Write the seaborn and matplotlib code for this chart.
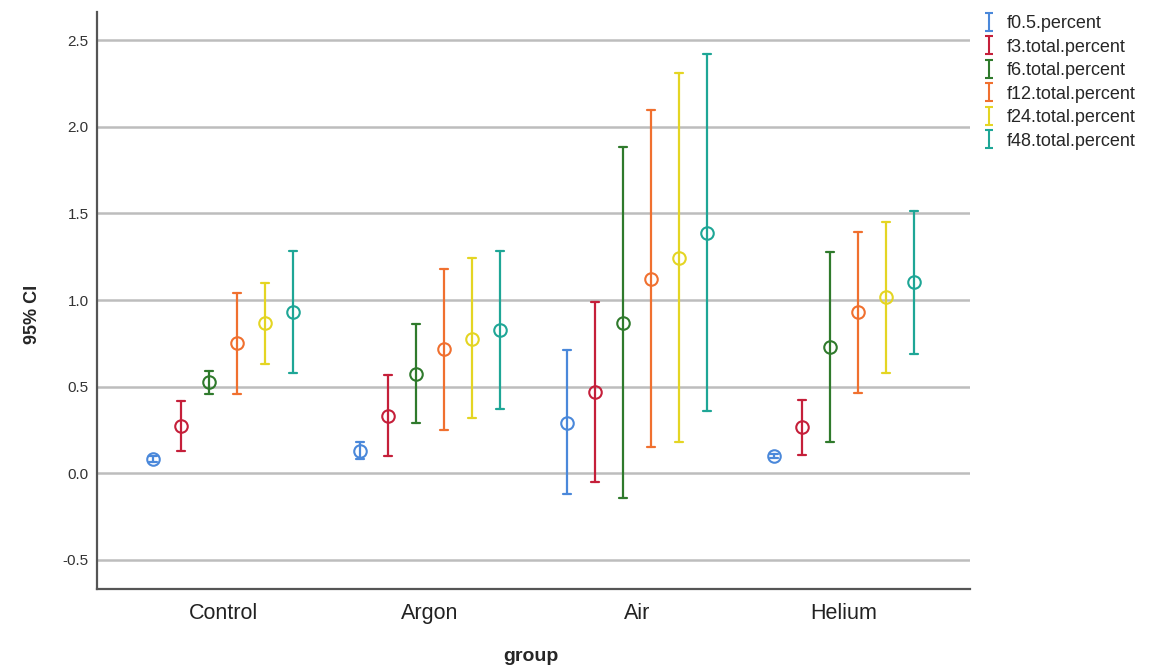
import numpy as np
import pandas as pd
import seaborn as sns
import matplotlib.pyplot as plt
from matplotlib.path import Path
from matplotlib.lines import Line2D

# values (mean and 95% CI bounds)
groups = ['Control', 'Argon', 'Air', 'Helium']
series = ['f0.5.percent', 'f3.total.percent', 'f6.total.percent',
          'f12.total.percent', 'f24.total.percent', 'f48.total.percent']
colors = ['#4A88DA', '#C51F3A', '#2F7A2C', '#F0702F', '#E4D523', '#1EA696']

mean_control = [0.083, 0.275, 0.525, 0.750, 0.870, 0.930]
lo_control   = [0.068, 0.128, 0.460, 0.456, 0.630, 0.580]
hi_control   = [0.100, 0.417, 0.590, 1.040, 1.100, 1.285]

mean_argon = [0.130, 0.330, 0.575, 0.715, 0.775, 0.825]
lo_argon   = [0.083, 0.100, 0.290, 0.250, 0.320, 0.370]
hi_argon   = [0.180, 0.565, 0.860, 1.180, 1.240, 1.285]

mean_air = [0.292, 0.470, 0.870, 1.120, 1.245, 1.390]
lo_air   = [-0.121, -0.050, -0.144, 0.153, 0.180, 0.360]
hi_air   = [0.710, 0.990, 1.885, 2.096, 2.312, 2.423]

mean_helium = [0.100, 0.265, 0.727, 0.929, 1.016, 1.102]
lo_helium   = [0.090, 0.105, 0.182, 0.465, 0.581, 0.688]
hi_helium   = [0.110, 0.423, 1.275, 1.394, 1.452, 1.515]

means = [mean_control, mean_argon, mean_air, mean_helium]
los = [lo_control, lo_argon, lo_air, lo_helium]
his = [hi_control, hi_argon, hi_air, hi_helium]

# long table: lo / mean / hi per cell -> median = mean, full range = CI
rows = []
for g, m, l, h in zip(groups, means, los, his):
    for s, mv, lv, hv in zip(series, m, l, h):
        for v in (lv, mv, hv):
            rows.append({'group': g, 'series': s, 'value': v})
df = pd.DataFrame(rows)

sns.set_style('white')
plt.rcParams['font.family'] = ['Liberation Sans', 'DejaVu Sans']
plt.rcParams['axes.unicode_minus'] = False

fig = plt.figure(figsize=(11.57, 6.69), dpi=100)
ax = fig.add_axes([97/1157, 80/669, 873/1157, 577/669])

sns.pointplot(data=df, x='group', y='value', hue='series',
              order=groups, hue_order=series, palette=colors,
              estimator='median', errorbar=('pi', 100),
              dodge=0.676, linestyles='none', markers='o',
              capsize=0.04, markersize=9, markerfacecolor='none',
              markeredgewidth=1.5, err_kws={'linewidth': 1.6},
              legend=False, ax=ax)

ax.set_xlim(-0.609, 3.609)
ax.set_ylim(-0.668, 2.663)
ax.set_yticks([-0.5, 0.0, 0.5, 1.0, 1.5, 2.0, 2.5])
ax.set_yticklabels(['%.1f' % t for t in ax.get_yticks()])
ax.yaxis.grid(True, color='#bdbdbd', linewidth=1.8)
ax.set_axisbelow(True)
for side in ['top', 'right']:
    ax.spines[side].set_visible(False)
for side in ['left', 'bottom']:
    ax.spines[side].set_color('#555555')
    ax.spines[side].set_linewidth(1.6)
ax.tick_params(axis='y', length=0, pad=6, labelsize=11, labelcolor='#333333')
ax.tick_params(axis='x', length=0, pad=10, labelsize=15.5, labelcolor='#222222')

ax.set_xlabel('group', fontsize=14, fontweight='bold')
ax.set_ylabel('95% CI', fontsize=13, fontweight='bold')
ax.xaxis.set_label_coords(0.497, -0.103)
ax.yaxis.set_label_coords(-0.064, 0.475)

# I-beam legend glyphs
ibeam = Path([(-0.45, 1), (0.45, 1), (0, 1), (0, -1), (-0.45, -1), (0.45, -1)],
             [Path.MOVETO, Path.LINETO, Path.MOVETO, Path.LINETO,
              Path.MOVETO, Path.LINETO])
handles = [Line2D([], [], linestyle='none', marker=ibeam, markersize=13,
                  markeredgewidth=1.5, markeredgecolor=c, markerfacecolor='none')
           for c in colors]
fig.legend(handles, series, loc='upper left', bbox_to_anchor=(0.842, 0.988),
           frameon=False, fontsize=13, labelspacing=0.36, handlelength=0.8,
           handletextpad=0.6, borderaxespad=0)

fig.savefig('out.png', dpi=100)
